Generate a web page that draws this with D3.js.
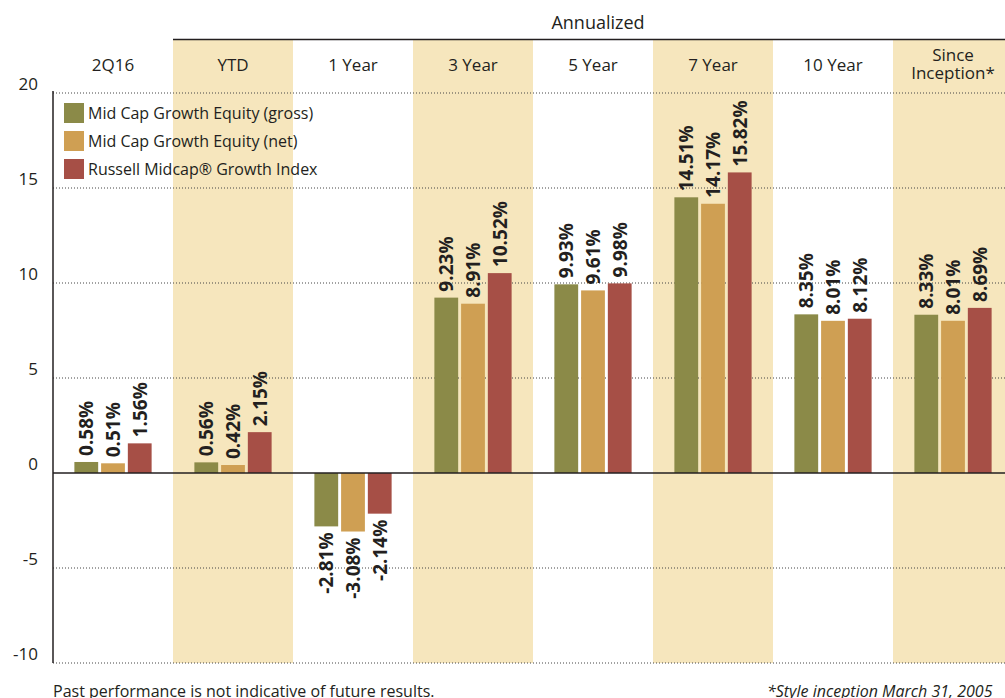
<!DOCTYPE html>
<html>
<head>
<meta charset="utf-8">
<script src="https://cdn.jsdelivr.net/npm/d3@7"></script>
<style>
  body { margin: 0; background: #fff; }
  text { font-family: "Open Sans", Lato, sans-serif; fill: #231f20; }
</style>
</head>
<body>
<div id="chart"></div>
<script>
var categories = ['2Q16', 'YTD', '1 Year', '3 Year', '5 Year', '7 Year', '10 Year', 'Since Inception*'];
var category_lines = [['2Q16'], ['YTD'], ['1 Year'], ['3 Year'], ['5 Year'], ['7 Year'], ['10 Year'], ['Since', 'Inception*']];
var series_names = ['Mid Cap Growth Equity (gross)', 'Mid Cap Growth Equity (net)', 'Russell Midcap\u00ae Growth Index'];
var gross = [0.58, 0.56, -2.81, 9.23, 9.93, 14.51, 8.35, 8.33];
var net = [0.51, 0.42, -3.08, 8.91, 9.61, 14.17, 8.01, 8.01];
var index_vals = [1.56, 2.15, -2.14, 10.52, 9.98, 15.82, 8.12, 8.69];
var y_ticks = [20, 15, 10, 5, 0, -5, -10];
var shaded = ['YTD', '3 Year', '7 Year', 'Since Inception*'];

var colours = ['#8b8a48', '#cf9f53', '#a64f46'];
var band_colour = '#f6e6bd';

var width = 1005, height = 698;
var plot_left = 53, plot_right = 1013, plot_top = 93, plot_bottom = 663;

var svg = d3.select('#chart').append('svg')
  .attr('width', width)
  .attr('height', height);

var x = d3.scaleBand().domain(categories).range([plot_left, plot_right]);
var y = d3.scaleLinear().domain([-10, 20]).range([plot_bottom, plot_top]);
var sx = d3.scaleBand().domain(d3.range(3)).range([0, x.bandwidth()]).paddingInner(0.11).paddingOuter(0.8);

// shaded columns
svg.append('g').selectAll('rect')
  .data(shaded)
  .join('rect')
  .attr('x', d => x(d))
  .attr('y', 40)
  .attr('width', x.bandwidth())
  .attr('height', plot_bottom - 40)
  .attr('fill', band_colour);

// header
svg.append('line')
  .attr('x1', x('YTD')).attr('x2', width)
  .attr('y1', 39.5).attr('y2', 39.5)
  .attr('stroke', '#231f20').attr('stroke-width', 1.5);
svg.append('text')
  .attr('x', 598).attr('y', 29)
  .attr('text-anchor', 'middle')
  .attr('font-size', 18)
  .text('Annualized');

var cat_labels = [];
categories.forEach(function(c, i) {
  let lines = category_lines[i];
  lines.forEach(function(line, j) {
    cat_labels.push({
      text: line,
      cx: x(c) + x.bandwidth() / 2,
      y: lines.length > 1 ? 61 + j * 18 : 71
    });
  });
});
svg.append('g').selectAll('text')
  .data(cat_labels)
  .join('text')
  .attr('x', d => d.cx)
  .attr('y', d => d.y)
  .attr('text-anchor', 'middle')
  .attr('font-size', 17)
  .text(d => d.text);

// grid lines
svg.append('g').selectAll('line')
  .data(y_ticks.filter(t => t !== 0))
  .join('line')
  .attr('x1', plot_left).attr('x2', width)
  .attr('y1', d => y(d)).attr('y2', d => y(d))
  .attr('stroke', '#444')
  .attr('stroke-width', 1)
  .attr('stroke-dasharray', '1,2');

// y axis labels
svg.append('g').selectAll('text')
  .data(y_ticks)
  .join('text')
  .attr('x', 38)
  .attr('y', d => y(d) - 3)
  .attr('text-anchor', 'end')
  .attr('font-size', 17)
  .text(d => d);

// bars
var groups = svg.append('g').selectAll('g')
  .data(categories)
  .join('g')
  .attr('transform', d => 'translate(' + x(d) + ',0)');

var bar_data = function(d, i) {
  return [gross[i], net[i], index_vals[i]].map((v, k) => ({v: v, k: k}));
};

groups.selectAll('rect')
  .data(bar_data)
  .join('rect')
  .attr('x', d => sx(d.k))
  .attr('width', sx.bandwidth())
  .attr('y', d => y(Math.max(0, d.v)))
  .attr('height', d => Math.abs(y(d.v) - y(0)))
  .attr('fill', d => colours[d.k]);

groups.selectAll('text')
  .data(bar_data)
  .join('text')
  .attr('transform', function(d) {
    let cx = sx(d.k) + sx.bandwidth() / 2 + 7;
    let cy = d.v >= 0 ? y(d.v) - 6 : y(d.v) + 6;
    return 'translate(' + cx + ',' + cy + ') rotate(-90)';
  })
  .attr('text-anchor', d => d.v >= 0 ? 'start' : 'end')
  .attr('font-size', 19)
  .attr('font-weight', 'bold')
  .text(d => d.v.toFixed(2) + '%');

// axis lines
svg.append('line')
  .attr('x1', plot_left).attr('x2', width)
  .attr('y1', y(0)).attr('y2', y(0))
  .attr('stroke', '#231f20').attr('stroke-width', 1.5);
svg.append('line')
  .attr('x1', plot_left).attr('x2', plot_left)
  .attr('y1', plot_top - 2).attr('y2', plot_bottom)
  .attr('stroke', '#231f20').attr('stroke-width', 1.5);

// legend
var legend = svg.append('g')
  .attr('transform', 'translate(64,103)')
  .selectAll('g')
  .data(series_names)
  .join('g')
  .attr('transform', (d, i) => 'translate(0,' + i * 28 + ')');
legend.append('rect')
  .attr('width', 20).attr('height', 20)
  .attr('fill', (d, i) => colours[i]);
legend.append('text')
  .attr('x', 24).attr('y', 16)
  .attr('font-size', 16)
  .text(d => d);

// footnotes
svg.append('text')
  .attr('x', 53).attr('y', 697)
  .attr('font-size', 16)
  .text('Past performance is not indicative of future results.');
svg.append('text')
  .attr('x', 767).attr('y', 697)
  .attr('font-size', 16)
  .attr('font-style', 'italic')
  .text('*Style inception March 31, 2005');
</script>
</body>
</html>
